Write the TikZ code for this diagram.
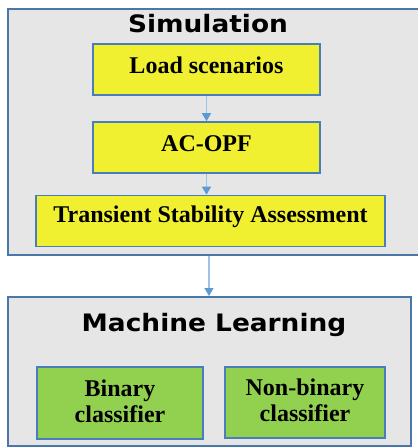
\documentclass[tikz,border=0pt]{standalone}
\usepackage{fontspec}
\setmainfont{Liberation Serif}
\newfontfamily\titlefont{DejaVu Sans}
\usetikzlibrary{arrows.meta}
\definecolor{panelbg}{HTML}{E6E6E6}
\definecolor{panelbd}{HTML}{4A76A8}
\definecolor{yel}{HTML}{F0F030}
\definecolor{grn}{HTML}{92D050}
\definecolor{boxbd}{HTML}{4A7EBB}
\definecolor{arrline}{HTML}{9DC3E6}
\definecolor{arrhead}{HTML}{5B9BD5}
\tikzset{
  panel/.style={draw=panelbd, fill=panelbg, line width=2pt},
  ybox/.style={draw=boxbd, fill=yel, line width=1.6pt},
  gbox/.style={draw=boxbd, fill=grn, line width=1.6pt},
  boxtext/.style={font=\fontsize{24}{26}\selectfont\bfseries, align=center},
  ttl/.style={font=\titlefont\fontsize{24}{28}\selectfont\bfseries},
  flow/.style={draw=arrline, line width=1.2pt, -{Triangle[length=8pt,width=9pt,fill=arrhead,color=arrhead]}}
}
\begin{document}
\begin{tikzpicture}[x=1pt,y=-1pt]
\useasboundingbox (0,0) rectangle (418,448);
% panels
\draw[panel] (8,9) rectangle (422,255);
\node[ttl] (simt) at (208,24) {\scalebox{1.1}[1]{Simulation}};
\draw[panel] (8,297) rectangle (411,446);
\node[ttl] (mlt) at (214,325) {\scalebox{1.1}[1]{Machine Learning}};
% simulation boxes
\node[ybox, minimum width=227pt, minimum height=51pt, inner sep=0pt] (load) at (206.5,69.5) {};
\node[boxtext] at ([yshift=4pt]load.center) {Load scenarios};
\node[ybox, minimum width=227pt, minimum height=51pt, inner sep=0pt] (acopf) at (206.5,147.5) {};
\node[boxtext] at ([yshift=4pt]acopf.center) {AC-OPF};
\node[ybox, minimum width=349pt, minimum height=51pt, inner sep=0pt] (tsa) at (210.5,221) {};
\node[boxtext] at ([yshift=4pt]tsa.center) {Transient Stability Assessment};
% ML boxes
\node[gbox, minimum width=166pt, minimum height=72pt, inner sep=0pt] (bin) at (120,403) {};
\node[boxtext] at ([yshift=2pt]bin.center) {Binary\\classifier};
\node[gbox, minimum width=160pt, minimum height=71pt, inner sep=0pt] (nbin) at (305,402.5) {};
\node[boxtext] at ([yshift=2pt]nbin.center) {Non-binary\\classifier};
% arrows
\coordinate (simbot) at (209,256);
\coordinate (mltop) at (209,296);
\draw[flow] (load.south) -- (acopf.north);
\draw[flow] (acopf.south) -- (acopf.south |- tsa.north);
\draw[flow] (simbot) -- (mltop);
\end{tikzpicture}
\end{document}
